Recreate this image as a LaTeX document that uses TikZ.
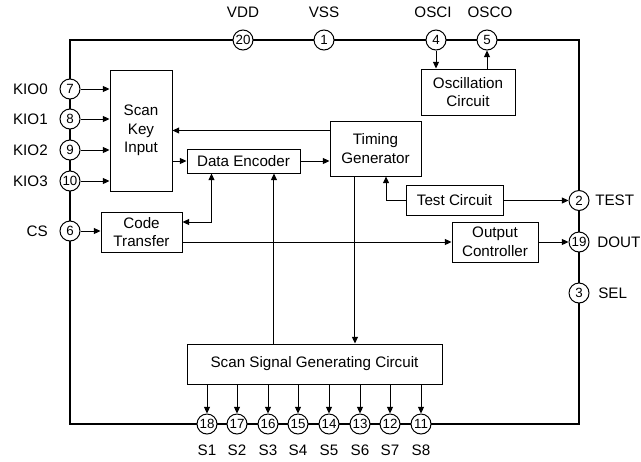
\documentclass[tikz,border=0pt]{standalone}
\usepackage{fontspec}
\setmainfont{Liberation Sans}
\usetikzlibrary{arrows.meta}

\begin{document}
\begin{tikzpicture}[x=0.75pt,y=0.75pt,yscale=-1,xscale=1,
  blk/.style={draw, line width=0.75pt, align=center, inner sep=0pt, font=\fontsize{11.4}{14}\selectfont},
  pin/.style={circle, draw, fill=white, line width=0.75pt, minimum size=15pt, inner sep=0pt, font=\fontsize{10}{10}\selectfont},
  lbl/.style={inner sep=0pt, font=\fontsize{11.4}{13}\selectfont},
  sig/.style={line width=0.75pt, -{Triangle[length=5pt,width=4.5pt]}},
  bus/.style={line width=2pt}]
\useasboundingbox (0,0) rectangle (641,461);

%Shape: Rectangle [chip outline]
\draw[bus] (70,40) rectangle (579,424);

%Shape: Blocks
\node[blk, minimum width=46.5pt, minimum height=90.75pt] (ski) at (141,130.5) {Scan\\Key\\Input};
\node[blk, minimum width=84.75pt, minimum height=18pt] (de) at (243.5,161) {Data Encoder};
\node[blk, minimum width=68.25pt, minimum height=41.25pt] (tg) at (375.5,148.5) {Timing\\Generator};
\node[blk, minimum width=70.5pt, minimum height=34.5pt] (osc) at (468,92) {Oscillation\\Circuit};
\node[blk, minimum width=72.75pt, minimum height=22.5pt] (tc) at (454.5,200.5) {Test Circuit};
\node[blk, minimum width=60.75pt, minimum height=30pt] (ct) at (141.5,232) {Code\\Transfer};
\node[blk, minimum width=64.5pt, minimum height=30pt] (oc) at (495,242) {Output\\Controller};
\node[blk, minimum width=191.25pt, minimum height=30pt] (ssg) at (314.5,364) {Scan Signal Generating Circuit};

%Shape: Pins, top
\node[pin] (pvdd) at (243,40) {20};
\node[pin] (pvss) at (324,40) {1};
\node[pin] (posci) at (436,40) {4};
\node[pin] (posco) at (487,40) {5};
\node[lbl] (lvdd) at (243,12.5) {VDD};
\node[lbl] (lvss) at (324,12.5) {VSS};
\node[lbl] (losci) at (433,12.5) {OSCI};
\node[lbl] (losco) at (490,12.5) {OSCO};

%Shape: Pins, left
\foreach \n/\y/\t [count=\i from 0] in {7/89/KIO0, 8/119/KIO1, 9/150/KIO2, 10/181/KIO3} {
  \node[pin] (pk\i) at (70,\y) {\n};
  \node[lbl, anchor=east] (lk\i) at (48,\y) {\t};
}
\node[pin] (pcs) at (70,231) {6};
\node[lbl, anchor=east] (lcs) at (48,231) {CS};

%Shape: Pins, right
\node[pin] (ptest) at (579,200.5) {2};
\node[pin] (pdout) at (579,242) {19};
\node[pin] (psel) at (579,293) {3};
\node[lbl, anchor=west] (ltest) at (595,200.5) {TEST};
\node[lbl, anchor=west] (ldout) at (597,242) {DOUT};
\node[lbl, anchor=west] (lsel) at (598,293) {SEL};

%Shape: Pins, bottom
\foreach \n/\x [count=\i] in {18/207, 17/237, 16/268, 15/298, 14/329, 13/360, 12/390, 11/421} {
  \node[pin] (ps\i) at (\x,424) {\n};
  \node[lbl, anchor=north] (ls\i) at (\x,445) {S\i};
  \draw[sig] (ps\i.north |- ssg.south) -- (ps\i.north);
}

%Straight Lines
\foreach \i in {0,...,3} {
  \draw[sig] (pk\i.east) -- (ski.west |- pk\i.east);
}
\draw[sig] (pcs.east) -- (ct.west |- pcs.east);
\draw[sig] (tg.west |- ski.east) -- (ski.east);
\draw[sig] (ski.east |- de.west) -- (de.west);
\draw[sig] (de.east) -- (tg.west |- de.east);
\draw[line width=0.75pt, {Triangle[length=5pt,width=4.5pt]}-{Triangle[length=5pt,width=4.5pt]}] ([xshift=18.75pt]de.south west) |- ([yshift=-7.5pt]ct.east);
\draw[sig] ([xshift=-30.4pt]ssg.north) coordinate (up) -- (up |- de.south);
\draw[sig] ([xshift=-15.4pt]tg.south) coordinate (dn) -- (dn |- ssg.north);
\draw[sig] (tc.west) -| ([xshift=7.9pt]tg.south);
\draw[sig] (tc.east) -- (ptest.west);
\draw[sig] (ct.east |- oc.west) -- (oc.west);
\draw[sig] (oc.east) -- (pdout.west);
\draw[sig] (posci.south) -- (posci.south |- osc.north);
\draw[sig] (posco.south |- osc.north) -- (posco.south);

\end{tikzpicture}
\end{document}
